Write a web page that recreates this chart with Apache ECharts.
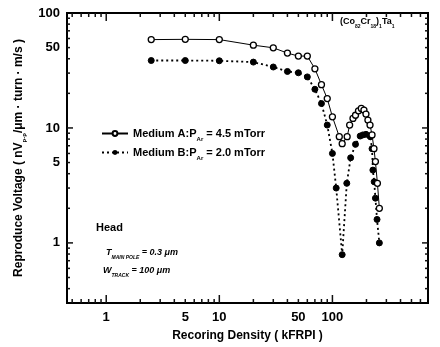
<!DOCTYPE html>
<html>
<head>
<meta charset="utf-8">
<script src="https://cdn.jsdelivr.net/npm/echarts@6/dist/echarts.min.js"></script>
<style>
  html, body { margin: 0; padding: 0; background: #fff; }
  #chart { width: 440px; height: 347px; }
</style>
</head>
<body>
<div id="chart"></div>
<script>
// Medium A (open circles) and Medium B (filled circles)
const densA = [2.5, 5, 10, 20, 30, 40, 50, 60, 70, 80, 90, 100, 115, 122, 135, 142, 152, 160, 170, 180, 190, 198, 206, 215, 224, 233, 240, 250, 260];
const voltA = [58.7, 59, 58.7, 52.5, 49.8, 44.8, 42.2, 42.2, 32.7, 23.8, 18, 12.5, 8.4, 7.3, 8.4, 10.6, 12.1, 12.9, 14.1, 14.8, 14.3, 13.2, 11.7, 10.6, 8.7, 6.6, 5.1, 3.3, 2.0];
const densB = [2.5, 5, 10, 20, 30, 40, 50, 60, 70, 80, 90, 100, 108, 122, 134, 145, 160, 176, 186, 198, 216, 224, 228, 234, 240, 248, 260];
const voltB = [38.6, 38.6, 38.4, 37.4, 33.9, 31, 30.2, 27.8, 21.7, 16.3, 10.6, 6.0, 3.0, 0.79, 3.3, 5.5, 7.2, 8.5, 8.7, 8.8, 8.4, 6.6, 4.3, 3.4, 2.45, 1.6, 1.0];

// tick labels and log tick positions
const xLabels = [1, 5, 10, 50, 100];
const yLabels = [1, 5, 10, 50, 100];
const xTicks = [0.5, 0.6, 0.7, 0.8, 0.9, 1, 2, 3, 4, 5, 6, 7, 8, 9, 10, 20, 30, 40, 50, 60, 70, 80, 90, 100, 200, 300, 400, 500, 600];
const yTicks = [0.4, 0.5, 0.6, 0.7, 0.8, 0.9, 1, 2, 3, 4, 5, 6, 7, 8, 9, 10, 20, 30, 40, 50, 60, 70, 80, 90];
const majors = [1, 10, 100];

const X_MIN = 0.45, X_MAX = 700, Y_MIN = 0.3, Y_MAX = 100;
const font = 'Liberation Sans, Arial, sans-serif';

const chart = echarts.init(document.getElementById('chart'));

// one inward tick per value on one side of the frame, placed through the axis scales
function tickSeries(values, side, majorLen, minorLen) {
    const horizontal = side === 'bottom' || side === 'top';
    return {
        type: 'custom',
        data: values.map(v => horizontal ? [v, 1] : [1, v]),
        renderItem: function (params, api) {
            const v = values[params.dataIndex];
            const len = majors.indexOf(v) >= 0 ? majorLen : minorLen;
            let p, x2, y2;
            if (side === 'bottom') { p = api.coord([v, Y_MIN]); x2 = p[0]; y2 = p[1] - len; }
            else if (side === 'top') { p = api.coord([v, Y_MAX]); x2 = p[0]; y2 = p[1] + len; }
            else if (side === 'left') { p = api.coord([X_MIN, v]); x2 = p[0] + len; y2 = p[1]; }
            else { p = api.coord([X_MAX, v]); x2 = p[0] - len; y2 = p[1]; }
            return {
                type: 'line',
                shape: { x1: p[0], y1: p[1], x2: x2, y2: y2 },
                style: { stroke: '#111', lineWidth: 1.5 }
            };
        }
    };
}

const sub = { fontSize: 6, verticalAlign: 'bottom', padding: [0, 0, -3, 0], fontWeight: 'bold', fontFamily: font };

chart.setOption({
    animation: false,
    grid: { left: 67, right: 12, top: 13, bottom: 41, show: true, borderColor: '#000', borderWidth: 2, backgroundColor: 'transparent' },
    xAxis: {
        type: 'log', logBase: 10, min: X_MIN, max: X_MAX,
        axisLine: { show: false },
        axisTick: { show: false },
        splitLine: { show: false },
        name: 'Recoring Density ( kFRPI )',
        nameLocation: 'middle',
        nameGap: 27,
        nameTextStyle: { fontFamily: font, fontWeight: 'bold', fontSize: 12, color: '#000' },
        axisLabel: { show: true, customValues: xLabels, color: '#000', fontFamily: font, fontWeight: 'bold', fontSize: 13, margin: 8 }
    },
    yAxis: {
        type: 'log', logBase: 10, min: Y_MIN, max: Y_MAX,
        axisLine: { show: false },
        axisTick: { show: false },
        splitLine: { show: false },
        name: 'Reproduce Voltage ( nV{s|p-p}/\u03bcm \u00b7 turn \u00b7 m/s )',
        nameLocation: 'middle',
        nameGap: 40,
        nameRotate: 90,
        nameTextStyle: { fontFamily: font, fontWeight: 'bold', fontSize: 12, color: '#000', rich: { s: sub } },
        axisLabel: { show: true, customValues: yLabels, color: '#000', fontFamily: font, fontWeight: 'bold', fontSize: 13, margin: 7 }
    },
    legend: {
        orient: 'vertical',
        left: 96,
        top: 123,
        itemGap: 5,
        itemWidth: 26,
        itemHeight: 6,
        textStyle: { fontFamily: font, fontWeight: 'bold', fontSize: 11, color: '#000', rich: { s: sub } },
        formatter: function (name) {
            return name === 'A' ? 'Medium A:P{s|Ar} = 4.5 mTorr' : 'Medium B:P{s|Ar} = 2.0 mTorr';
        },
        data: ['A', 'B']
    },
    series: [
        {
            name: 'A',
            type: 'line',
            data: densA.map((d, i) => [d, voltA[i]]),
            symbol: 'circle',
            symbolSize: 6,
            itemStyle: { color: '#fff', borderColor: '#000', borderWidth: 1.3 },
            lineStyle: { color: '#000', width: 1, type: 'solid' },
            z: 3
        },
        {
            name: 'B',
            type: 'line',
            data: densB.map((d, i) => [d, voltB[i]]),
            symbol: 'circle',
            symbolSize: 6,
            itemStyle: { color: '#000', borderColor: '#000' },
            lineStyle: { color: '#000', width: 1.8, type: [2, 3] },
            z: 2
        },
        tickSeries(xTicks, 'bottom', 8, 4),
        tickSeries(xTicks, 'top', 8, 4),
        tickSeries(yTicks, 'left', 6, 3),
        tickSeries(yTicks, 'right', 6, 3)
    ],
    graphic: [
        {
            type: 'text', left: 340, top: 17,
            style: {
                text: '(Co{s|82}Cr{s|18}){s|1}Ta{s|1}',
                fontFamily: font, fontWeight: 'bold', fontSize: 9, fill: '#000',
                rich: { s: Object.assign({}, sub, { fontSize: 5 }) }
            }
        },
        {
            type: 'text', left: 96, top: 222,
            style: { text: 'Head', fontFamily: font, fontWeight: 'bold', fontSize: 11, fill: '#000' }
        },
        {
            type: 'text', left: 106, top: 248,
            style: {
                text: 'T{s|MAIN POLE} = 0.3 \u03bcm',
                fontFamily: font, fontWeight: 'bold', fontStyle: 'italic', fontSize: 9, fill: '#000',
                rich: { s: Object.assign({}, sub, { fontSize: 5, fontStyle: 'italic' }) }
            }
        },
        {
            type: 'text', left: 103, top: 266,
            style: {
                text: 'W{s|TRACK} = 100 \u03bcm',
                fontFamily: font, fontWeight: 'bold', fontStyle: 'italic', fontSize: 9, fill: '#000',
                rich: { s: Object.assign({}, sub, { fontSize: 5, fontStyle: 'italic' }) }
            }
        }
    ]
});
</script>
</body>
</html>
